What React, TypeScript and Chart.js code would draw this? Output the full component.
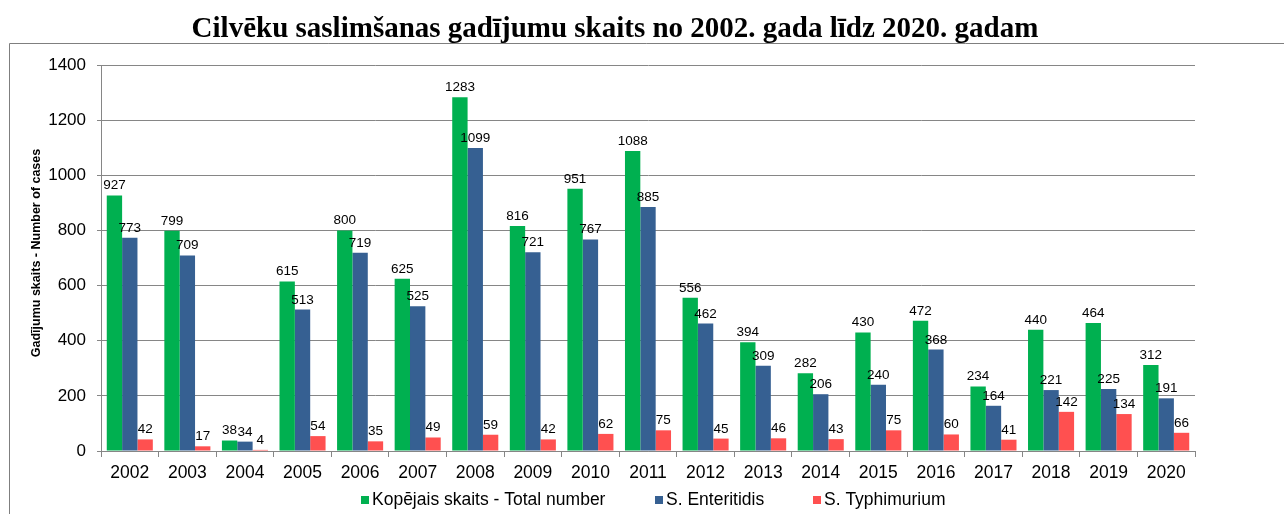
import React, { useEffect, useRef } from "react";
import { Chart, registerables } from "chart.js";

Chart.register(...registerables);

const TITLE = "Cilvēku saslimšanas gadījumu skaits no 2002. gada līdz 2020. gadam";
const Y_TITLE = "Gadījumu skaits - Number of cases";

const years = ["2002", "2003", "2004", "2005", "2006", "2007", "2008", "2009", "2010", "2011", "2012", "2013", "2014", "2015", "2016", "2017", "2018", "2019", "2020"];
const totalNumber = [927, 799, 38, 615, 800, 625, 1283, 816, 951, 1088, 556, 394, 282, 430, 472, 234, 440, 464, 312];
const enteritidis = [773, 709, 34, 513, 719, 525, 1099, 721, 767, 885, 462, 309, 206, 240, 368, 164, 221, 225, 191];
const typhimurium = [42, 17, 4, 54, 35, 49, 59, 42, 62, 75, 45, 46, 43, 75, 60, 41, 142, 134, 66];
const seriesNames = ["Kopējais skaits - Total number", "S. Enteritidis", "S. Typhimurium"];
const seriesColors = ["#00B050", "#366092", "#FF5050"];
const yTicks = { min: 0, max: 1400, step: 200 };

const FONT = '"Liberation Sans", Arial, sans-serif';
const GRID = "#868686";

export default function App() {
  const ref = useRef<HTMLCanvasElement | null>(null);

  useEffect(() => {
    if (!ref.current) return;
    const decor = {
      id: "decor",
      beforeDraw(chart: any) {
        const ctx = chart.ctx;
        ctx.save();
        ctx.fillStyle = "#ffffff";
        ctx.fillRect(0, 0, chart.width, chart.height);
        ctx.strokeStyle = "#7f7f7f";
        ctx.lineWidth = 1;
        ctx.beginPath();
        ctx.moveTo(9.5, chart.height);
        ctx.lineTo(9.5, 43.5);
        ctx.lineTo(chart.width, 43.5);
        ctx.stroke();
        ctx.fillStyle = "#000";
        ctx.font = 'bold 29px "Liberation Serif", "Times New Roman", serif';
        ctx.textAlign = "center";
        ctx.textBaseline = "alphabetic";
        ctx.fillText(TITLE, 615, 37);
        ctx.save();
        ctx.translate(37, 253);
        ctx.rotate(-Math.PI / 2);
        ctx.textBaseline = "middle";
        ctx.font = "bold 12.5px " + FONT;
        ctx.fillText(Y_TITLE, 0, 0);
        ctx.restore();
        // legend
        const items = [361, 655, 813];
        ctx.font = "17.5px " + FONT;
        ctx.textAlign = "left";
        ctx.textBaseline = "middle";
        items.forEach((x, i) => {
          ctx.fillStyle = seriesColors[i];
          ctx.fillRect(x, 496, 8, 8);
          ctx.fillStyle = "#000";
          ctx.fillText(seriesNames[i], x + 11, 500);
        });
        ctx.restore();
      },
      afterDatasetsDraw(chart: any) {
        const ctx = chart.ctx;
        ctx.save();
        ctx.font = "13.5px " + FONT;
        ctx.fillStyle = "#000";
        ctx.textAlign = "center";
        ctx.textBaseline = "bottom";
        chart.data.datasets.forEach((ds: any, di: number) => {
          const meta = chart.getDatasetMeta(di);
          meta.data.forEach((el: any, i: number) => {
            ctx.fillText(String(ds.data[i]), el.x, el.y - 3);
          });
        });
        ctx.restore();
      },
    };

    const chart = new Chart(ref.current, {
      type: "bar",
      data: {
        labels: years,
        datasets: [
          { label: seriesNames[0], data: totalNumber, backgroundColor: seriesColors[0] },
          { label: seriesNames[1], data: enteritidis, backgroundColor: seriesColors[1] },
          { label: seriesNames[2], data: typhimurium, backgroundColor: seriesColors[2] },
        ],
      },
      options: {
        animation: false,
        responsive: false,
        devicePixelRatio: 1,
        layout: { padding: { left: 0, top: 65, right: 89, bottom: 0 } },
        datasets: { bar: { categoryPercentage: 0.8, barPercentage: 1.0 } },
        plugins: {
          legend: { display: false },
          title: { display: false },
          tooltip: { enabled: false },
        },
        scales: {
          x: {
            afterFit(scale: any) {
              scale.height = 63;
            },
            grid: { display: true, drawOnChartArea: false, drawTicks: true, tickLength: 6, color: GRID, offset: true },
            border: { display: true, color: GRID },
            ticks: { color: "#000", font: { family: FONT, size: 17.5 }, padding: 6, maxRotation: 0, autoSkip: false },
          },
          y: {
            min: yTicks.min,
            max: yTicks.max,
            afterFit(scale: any) {
              scale.width = 101;
            },
            grid: { color: GRID, tickLength: 4 },
            border: { display: true, color: GRID },
            ticks: {
              stepSize: yTicks.step,
              color: "#000",
              font: { family: FONT, size: 17 },
              padding: 11,
              callback: (v: any) => String(v),
            },
          },
        },
      },
      plugins: [decor],
    } as any);
    return () => chart.destroy();
  }, []);

  return (
    <div style={{ position: "absolute", left: 0, top: 0, width: 1284, height: 514 }}>
      <canvas ref={ref} width={1284} height={514} style={{ display: "block" }} />
    </div>
  );
}
